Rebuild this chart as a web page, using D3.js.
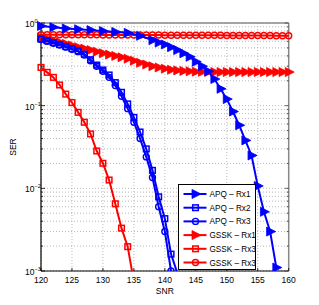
<!DOCTYPE html>
<html><head><meta charset="utf-8">
<script src="https://cdn.jsdelivr.net/npm/d3@7"></script>
<style>body{margin:0;background:#fff}svg{display:block}text{font-family:"Liberation Sans",Arial,sans-serif}</style>
</head><body><div id="c"></div>
<script>
const xTicks = [120,125,130,135,140,145,150,155,160];
const yTicks = [0,-1,-2,-3];
const snrApq1 = [120,122,124,126,128,130,132,134,136,138,139,140,141,142,143,144,145,146,147,148,149,150,151,152,153,154,155,156,157,158];
const apqRx1 = [0.92,0.89,0.86,0.84,0.82,0.80,0.78,0.76,0.70,0.62,0.58,0.55,0.51,0.47,0.43,0.39,0.34,0.30,0.26,0.21,0.16,0.12,0.085,0.058,0.038,0.025,0.0107,0.0052,0.003,0.0011];
const snrApq2 = [120,121,122,123,124,125,126,127,128,129,130,131,132,133,134,135,136,137,138,139,140,141,142];
const apqRx2 = [0.64,0.61,0.58,0.55,0.52,0.49,0.46,0.42,0.36,0.31,0.27,0.235,0.19,0.145,0.105,0.072,0.048,0.030,0.0165,0.0079,0.0043,0.0016,0.00095];
const snrApq3 = [120,121,122,123,124,125,126,127,128,129,130,131,132,133,134,135,136,137,138,139,140,141];
const apqRx3 = [0.63,0.60,0.57,0.54,0.51,0.48,0.45,0.41,0.35,0.30,0.26,0.22,0.175,0.13,0.092,0.063,0.040,0.024,0.0135,0.006,0.003,0.001];
const snrG1 = [120,121,122,123,124,125,126,127,128,129,130,131,132,133,134,135,136,137,138,139,140,141,142,143,144,145,146,147,148,149,150,151,152,153,154,155,156,157,158,159,160];
const gsskRx1 = [0.67,0.64,0.61,0.585,0.56,0.535,0.51,0.49,0.47,0.45,0.43,0.415,0.40,0.385,0.37,0.35,0.33,0.315,0.30,0.29,0.28,0.272,0.267,0.263,0.26,0.258,0.257,0.256,0.255,0.255,0.255,0.255,0.255,0.255,0.255,0.255,0.255,0.255,0.255,0.255,0.255];
const snrG2 = [120,121,122,123,124,125,126,127,128,129,130,131,132,133,134,135];
const gsskRx2 = [0.29,0.253,0.22,0.178,0.138,0.109,0.083,0.063,0.0455,0.0283,0.0201,0.0126,0.0065,0.0033,0.00197,0.00074];
const snrG3 = snrG1;
const gsskRx3 = [0.72,0.72,0.72,0.72,0.72,0.72,0.72,0.72,0.72,0.72,0.715,0.715,0.715,0.715,0.715,0.715,0.715,0.715,0.715,0.715,0.71,0.71,0.71,0.71,0.71,0.71,0.71,0.71,0.71,0.71,0.705,0.705,0.705,0.705,0.705,0.705,0.705,0.705,0.70,0.70,0.70];
const legendLabels = ["APQ \u2013 Rx1","APQ \u2013 Rx2","APQ \u2013 Rx3","GSSK \u2013 Rx1","GSSK \u2013 Rx3","GSSK \u2013 Rx3"];

const W=319,H=305, L=41,R=288.7,T=23,B=271;
const svg=d3.select("#c").append("svg").attr("width",W).attr("height",H);
const x=d3.scaleLinear().domain([120,160]).range([L,R]);
const y=d3.scaleLog().domain([1e-3,1]).range([B,T]);
const defs=svg.append("defs");
defs.append("clipPath").attr("id","clip").append("rect").attr("x",L-6).attr("y",T-6).attr("width",R-L+12).attr("height",B-T+6);

const g=svg.append("g");
const minors=[];
for(let e=-3;e<0;e++) for(let m=1;m<10;m++) minors.push(m*Math.pow(10,e));
minors.push(1);
const isMajor=d=>Math.abs(Math.log10(d)-Math.round(Math.log10(d)))<1e-9;
g.selectAll(".gy").data(minors).join("line").attr("x1",L).attr("x2",R).attr("y1",d=>y(d)).attr("y2",d=>y(d))
 .attr("stroke","#a8a8a8").attr("stroke-width",0.8).attr("stroke-dasharray","1,2");
g.selectAll(".gx").data(xTicks).join("line").attr("x1",d=>x(d)).attr("x2",d=>x(d)).attr("y1",T).attr("y2",B)
 .attr("stroke","#a8a8a8").attr("stroke-width",0.8).attr("stroke-dasharray","1,2");

svg.append("line").attr("x1",L).attr("x2",R).attr("y1",T).attr("y2",T).attr("stroke","#888").attr("stroke-width",1.5);
svg.append("line").attr("x1",R).attr("x2",R).attr("y1",T).attr("y2",B).attr("stroke","#888").attr("stroke-width",1.5);
svg.append("line").attr("x1",L).attr("x2",R).attr("y1",B).attr("y2",B).attr("stroke","#000").attr("stroke-width",1.2);
svg.append("line").attr("x1",L).attr("x2",L).attr("y1",T).attr("y2",B).attr("stroke","#000").attr("stroke-width",1.2);
svg.selectAll(".tx").data(xTicks).join("line").attr("x1",d=>x(d)).attr("x2",d=>x(d)).attr("y1",B).attr("y2",B-3).attr("stroke","#000").attr("stroke-width",0.8);
svg.selectAll(".ty").data(minors).join("line").attr("x1",L).attr("x2",d=>L+(isMajor(d)?4:2)).attr("y1",d=>y(d)).attr("y2",d=>y(d)).attr("stroke","#000").attr("stroke-width",0.8);
svg.selectAll(".ty2").data(minors).join("line").attr("x1",R).attr("x2",d=>R-(isMajor(d)?4:2)).attr("y1",d=>y(d)).attr("y2",d=>y(d)).attr("stroke","#444").attr("stroke-width",0.8);

svg.selectAll(".xl").data(xTicks).join("text").attr("x",d=>x(d)).attr("y",B+12).attr("text-anchor","middle").attr("font-size",8.5).text(d=>d);
const yl=svg.selectAll(".yl").data(yTicks).join("text").attr("x",L-16).attr("y",d=>y(Math.pow(10,d))+4).attr("font-size",8.5);
yl.append("tspan").text("10");
yl.append("tspan").attr("dy",-4).attr("font-size",5.5).text(d=>d===0?"0":"\u2212"+(-d));
svg.append("text").attr("transform",`translate(${L-25},${(T+B)/2}) rotate(-90)`).attr("text-anchor","middle").attr("font-size",8.5).text("SER");
svg.append("text").attr("x",(L+R)/2).attr("y",B+23).attr("text-anchor","middle").attr("font-size",8.5).text("SNR");

const series=[
 {xs:snrApq1,ys:apqRx1,c:"#0000ff",m:"tri"},
 {xs:snrApq2,ys:apqRx2,c:"#0000ff",m:"sq"},
 {xs:snrApq3,ys:apqRx3,c:"#0000ff",m:"ci"},
 {xs:snrG1,ys:gsskRx1,c:"#ff0000",m:"tri"},
 {xs:snrG2,ys:gsskRx2,c:"#ff0000",m:"sq"},
 {xs:snrG3,ys:gsskRx3,c:"#ff0000",m:"ci"}
];
const line=d3.line().x(d=>x(d[0])).y(d=>y(d[1]));
function marker(sel,m,c){
 if(m==="tri") sel.append("path").attr("d","M-3.5,-4.5L5.5,0L-3.5,4.5Z").attr("fill",c).attr("stroke",c).attr("stroke-width",0.8);
 else if(m==="sq") sel.append("rect").attr("x",-2.8).attr("y",-2.8).attr("width",5.6).attr("height",5.6).attr("fill","none").attr("stroke",c).attr("stroke-width",1.5);
 else sel.append("circle").attr("r",3).attr("fill","none").attr("stroke",c).attr("stroke-width",1.4);
}
const plot=svg.append("g").attr("clip-path","url(#clip)");
const order=[3,5,4,2,1,0];
order.forEach(i=>{
 const s=series[i];
 const pts=s.xs.map((v,k)=>[v,s.ys[k]]);
 plot.append("path").datum(pts).attr("d",line).attr("fill","none").attr("stroke",s.c).attr("stroke-width",2);
 pts.filter(p=>p[1]>=1e-3).forEach(p=>{
   marker(plot.append("g").attr("transform",`translate(${x(p[0])},${y(p[1])})`),s.m,s.c);
 });
});

const lx=178.5, ly=184.5, lw=77, lh=85;
const lg=svg.append("g");
lg.append("rect").attr("x",lx).attr("y",ly).attr("width",lw).attr("height",lh).attr("fill","#fff").attr("stroke","#000").attr("stroke-width",1);
series.forEach((s,i)=>{
 const yy=ly+9.5+i*13.7;
 lg.append("line").attr("x1",lx+5).attr("x2",lx+28).attr("y1",yy).attr("y2",yy).attr("stroke",s.c).attr("stroke-width",2);
 marker(lg.append("g").attr("transform",`translate(${lx+17},${yy})`),s.m,s.c);
 lg.append("text").attr("x",lx+31).attr("y",yy+3).attr("font-size",8.2).text(legendLabels[i]);
});
</script></body></html>
